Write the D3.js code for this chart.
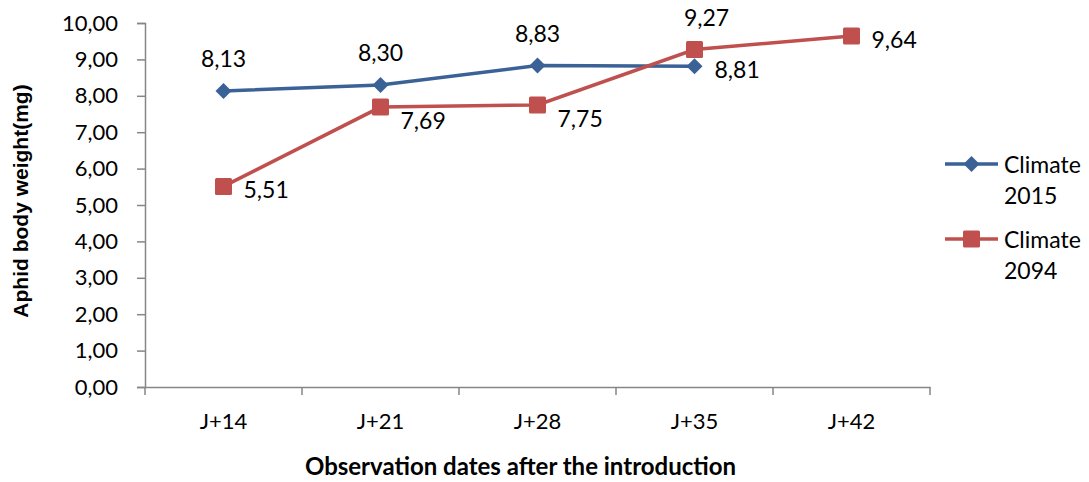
<!DOCTYPE html>
<html>
<head>
<meta charset="utf-8">
<script src="https://cdn.jsdelivr.net/npm/d3@7"></script>
<style>
  body { margin: 0; background: #fff; }
  text { font-family: Lato, "Open Sans", sans-serif; fill: #000; }
</style>
</head>
<body>
<svg id="chart" width="1089" height="482"></svg>
<script>
"use strict";

// categories on the x axis
const dates = ["J+14", "J+21", "J+28", "J+35", "J+42"];

// series values (null = no observation)
const climate2015 = [8.13, 8.30, 8.83, 8.81, null];
const climate2094 = [5.51, 7.69, 7.75, 9.27, 9.64];

// where each data label sits relative to its point
const place2015 = ["above", "above", "above", "right", null];
const place2094 = ["right", "right", "right", "above", "right"];

const yTicks = [0, 1, 2, 3, 4, 5, 6, 7, 8, 9, 10];

const series = [
    { name: ["Climate", "2015"], values: climate2015, place: place2015, color: "#3A6296", marker: "diamond" },
    { name: ["Climate", "2094"], values: climate2094, place: place2094, color: "#C0504D", marker: "square" }
];

const svg = d3.select("#chart");
const margin = { left: 145, right: 159, top: 23, bottom: 95 };
const width = 1089 - margin.left - margin.right;
const height = 482 - margin.top - margin.bottom;

const g = svg.append("g").attr("transform", `translate(${margin.left},${margin.top})`);

const x = d3.scaleBand().domain(dates).range([0, width]);
const y = d3.scaleLinear().domain([0, 10]).range([height, 0]);

const fmt = v => d3.format(".2f")(v).replace(".", ",");
const axisColor = "#868686";

// y axis
const yAxis = g.append("g")
    .call(d3.axisLeft(y).tickValues(yTicks).tickSize(8).tickPadding(19).tickFormat(fmt));
yAxis.selectAll("text").style("font-size", "22px");

// x axis, ticks on category boundaries
const xAxis = g.append("g").attr("transform", `translate(0,${height})`)
    .call(d3.axisBottom(x).tickSize(0).tickPadding(26));
xAxis.selectAll("text").style("font-size", "22px");
xAxis.selectAll(".bound")
    .data(d3.range(dates.length + 1))
    .enter().append("line")
    .attr("class", "bound")
    .attr("x1", i => i * x.step()).attr("x2", i => i * x.step())
    .attr("y1", 0).attr("y2", 8);

[yAxis, xAxis].forEach(a => {
    a.select(".domain").attr("stroke", axisColor).attr("stroke-width", 1.5);
    a.selectAll("line").attr("stroke", axisColor).attr("stroke-width", 1.5);
});

// axis titles
svg.append("text")
    .attr("transform", `translate(28,${margin.top + height / 2 - 4}) rotate(-90)`)
    .attr("text-anchor", "middle")
    .style("font-family", "'Liberation Sans', Arial, sans-serif")
    .style("font-weight", "bold")
    .style("font-size", "21px")
    .text("Aphid body weight(mg)");

svg.append("text")
    .attr("x", margin.left + width / 2 - 17).attr("y", 475)
    .attr("text-anchor", "middle")
    .style("font-weight", "bold")
    .style("font-size", "24px")
    .text("Observation dates after the introduction");

const cx = i => x(dates[i]) + x.bandwidth() / 2;

function drawMarker(sel, type, color) {
    if (type === "diamond") {
        const s = 8;
        sel.append("path")
            .attr("d", `M0,${-s}L${s},0L0,${s}L${-s},0Z`)
            .attr("fill", color);
    } else {
        const s = 8.5;
        sel.append("rect")
            .attr("x", -s).attr("y", -s)
            .attr("width", 2 * s).attr("height", 2 * s)
            .attr("rx", 1.5)
            .attr("fill", color);
    }
}

series.forEach(s => {
    const pts = s.values.map((v, i) => ({ v, i, p: s.place[i] })).filter(d => d.v !== null);

    g.append("path")
        .datum(pts)
        .attr("fill", "none")
        .attr("stroke", s.color)
        .attr("stroke-width", 3.5)
        .attr("d", d3.line().x(d => cx(d.i)).y(d => y(d.v)));

    pts.forEach(d => {
        const m = g.append("g").attr("transform", `translate(${cx(d.i)},${y(d.v)})`);
        drawMarker(m, s.marker, s.color);

        const lbl = g.append("text")
            .style("font-size", "23px")
            .attr("dominant-baseline", "central")
            .text(fmt(d.v));
        if (d.p === "above") {
            lbl.attr("text-anchor", "middle")
                .attr("x", cx(d.i) + (s.marker === "square" ? 12 : 0))
                .attr("y", y(d.v) - 33);
        } else {
            lbl.attr("text-anchor", "start")
                .attr("x", cx(d.i) + 20)
                .attr("y", y(d.v) + (d.v > 7 && d.v < 8 ? 13 : 3));
        }
    });
});

// legend
const legend = svg.append("g").attr("transform", "translate(945,164)");
series.forEach((s, k) => {
    const row = legend.append("g").attr("transform", `translate(0,${k * 75})`);
    row.append("line")
        .attr("x1", 0).attr("x2", 53)
        .attr("stroke", s.color).attr("stroke-width", 3.5);
    const m = row.append("g").attr("transform", "translate(26.5,0)");
    drawMarker(m, s.marker, s.color);
    s.name.forEach((t, j) => {
        row.append("text")
            .attr("x", 59).attr("y", j * 31)
            .attr("dominant-baseline", "central")
            .style("font-size", "23px")
            .text(t);
    });
});
</script>
</body>
</html>
